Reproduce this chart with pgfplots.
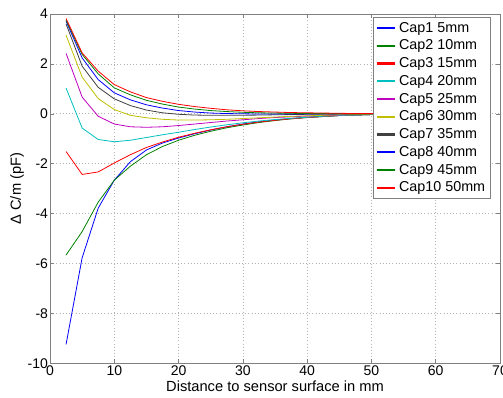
\documentclass[border=0pt]{standalone}
\usepackage{fontspec}
\setmainfont{Liberation Sans}
\usepackage{pgfplots}
\usepackage{pgfplotstable}
\pgfplotsset{compat=1.18}
\definecolor{mblue}{rgb}{0,0,1}
\definecolor{mgreen}{rgb}{0,0.5,0}
\definecolor{mred}{rgb}{1,0,0}
\definecolor{mcyan}{rgb}{0,0.75,0.75}
\definecolor{mmag}{rgb}{0.75,0,0.75}
\definecolor{myel}{rgb}{0.75,0.75,0}
\definecolor{mgray}{rgb}{0.25,0.25,0.25}
\pgfplotstableread{
x    c1     c2     c3     c4     c5     c6     c7     c8     c9     c10
2.5  -9.24  -5.66  -1.51  1.03   2.42   3.15   3.60   3.71   3.76   3.82
5    -5.77  -4.72  -2.43  -0.57  0.67   1.47   1.91   2.24   2.38   2.44
7.5  -3.78  -3.54  -2.33  -1.03  -0.10  0.61   1.06   1.37   1.60   1.71
10   -2.66  -2.66  -1.97  -1.12  -0.41  0.17   0.60   0.84   1.04   1.17
12.5 -1.92  -2.10  -1.64  -1.06  -0.52  -0.06  0.33   0.56   0.76   0.88
15   -1.45  -1.64  -1.35  -0.95  -0.54  -0.16  0.15   0.36   0.54   0.65
17.5 -1.17  -1.31  -1.13  -0.84  -0.52  -0.22  0.04   0.23   0.39   0.50
20   -0.97  -1.06  -0.94  -0.74  -0.47  -0.25  -0.02  0.13   0.27   0.38
22.5 -0.80  -0.86  -0.78  -0.63  -0.41  -0.25  -0.05  0.07   0.19   0.29
25   -0.65  -0.70  -0.64  -0.53  -0.35  -0.24  -0.06  0.03   0.13   0.22
27.5 -0.52  -0.56  -0.52  -0.44  -0.29  -0.22  -0.06  0.01   0.09   0.16
30   -0.41  -0.45  -0.42  -0.36  -0.24  -0.19  -0.06  0.00   0.06   0.12
32.5 -0.32  -0.35  -0.33  -0.29  -0.19  -0.16  -0.05  -0.01  0.04   0.09
35   -0.25  -0.27  -0.26  -0.23  -0.15  -0.13  -0.04  -0.01  0.03   0.07
37.5 -0.19  -0.20  -0.20  -0.18  -0.12  -0.10  -0.03  -0.01  0.02   0.05
40   -0.14  -0.15  -0.15  -0.14  -0.09  -0.08  -0.02  -0.01  0.01   0.04
42.5 -0.10  -0.11  -0.11  -0.10  -0.07  -0.06  -0.02  0.00   0.01   0.03
45   -0.07  -0.07  -0.07  -0.07  -0.05  -0.04  -0.01  0.00   0.00   0.02
47.5 -0.05  -0.05  -0.05  -0.05  -0.03  -0.03  -0.01  0.00   0.00   0.01
50   -0.03  -0.03  -0.03  -0.03  -0.02  -0.02  0.00   0.00   0.00   0.01
52.5 -0.01  -0.01  -0.01  -0.01  -0.01  -0.01  0.00   0.00   0.00   0.00
}\data
\begin{document}
\begin{tikzpicture}
\begin{axis}[
  scale only axis,
  width=337.5pt, height=262pt,
  xmin=0, xmax=70, ymin=-10, ymax=4,
  xtick={0,10,...,70}, ytick={-10,-8,...,4},
  /pgf/number format/assume math mode=true,
  tick label style={font=\fontsize{10.5}{12}\selectfont},
  label style={font=\fontsize{11}{13}\selectfont},
  xlabel={Distance to sensor surface in mm},
  ylabel={Δ C/m (pF)},
  xlabel style={yshift=2.5pt},
  ylabel style={yshift=-4pt},
  axis line style={gray},
  tick style={gray, line width=0.4pt},
  tick align=inside,
  major tick length=3pt,
  xtick pos=both, ytick pos=both,
  grid=major,
  grid style={gray!60, dotted, line width=0.5pt},
  xticklabel style={yshift=2pt},
  yticklabel style={xshift=2pt},
  legend cell align=left,
  legend style={at={(0.978,0.991)}, anchor=north east, draw=gray, fill=white,
    font=\fontsize{10.75}{12}\selectfont, inner sep=1.5pt, row sep=0.3pt},
  legend image code/.code={\draw[#1, line width=1.6pt] (0pt,0pt) -- (14pt,0pt);},
  every axis plot/.append style={line width=0.6pt},
]
\addplot[color=mblue] table[x=x,y=c1] {\data};
\addlegendentry{Cap1 5mm}
\addplot[color=mgreen] table[x=x,y=c2] {\data};
\addlegendentry{Cap2 10mm}
\addplot[color=mred] table[x=x,y=c3] {\data};
\addlegendentry{Cap3 15mm}
\addplot[color=mcyan] table[x=x,y=c4] {\data};
\addlegendentry{Cap4 20mm}
\addplot[color=mmag] table[x=x,y=c5] {\data};
\addlegendentry{Cap5 25mm}
\addplot[color=myel] table[x=x,y=c6] {\data};
\addlegendentry{Cap6 30mm}
\addplot[color=mgray] table[x=x,y=c7] {\data};
\addlegendentry{Cap7 35mm}
\addplot[color=mblue] table[x=x,y=c8] {\data};
\addlegendentry{Cap8 40mm}
\addplot[color=mgreen] table[x=x,y=c9] {\data};
\addlegendentry{Cap9 45mm}
\addplot[color=mred] table[x=x,y=c10] {\data};
\addlegendentry{Cap10 50mm}
\end{axis}
\pgfresetboundingbox
\path[use as bounding box] ([shift={(-37.5pt,-25.5pt)}]current axis.south west) rectangle ([shift={(2.25pt,10.5pt)}]current axis.north east);
\end{tikzpicture}
\end{document}
